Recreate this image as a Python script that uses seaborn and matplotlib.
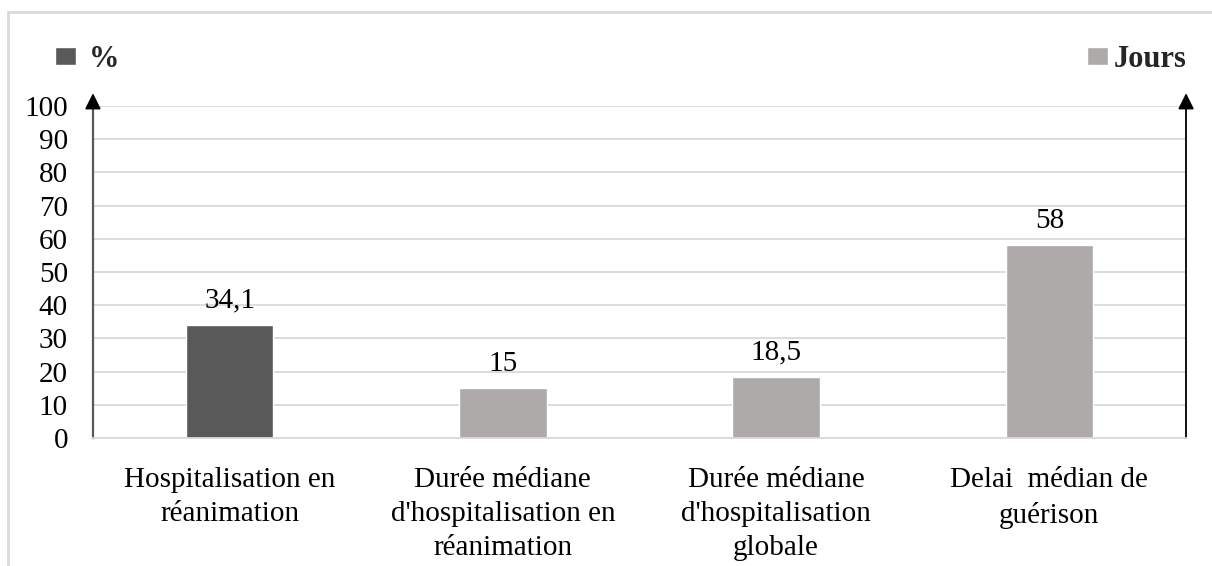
import matplotlib
matplotlib.use('Agg')
import matplotlib.pyplot as plt
import seaborn as sns
import pandas as pd
from matplotlib.patches import Rectangle

# Data
categories = [
    "Hospitalisation en\nréanimation",
    "Durée médiane\nd'hospitalisation en\nréanimation",
    "Durée médiane\nd'hospitalisation\nglobale",
    "Delai  médian de\nguérison",
]
values = [34.1, 15, 18.5, 58]
value_labels = ["34,1", "15", "18,5", "58"]
units = ["%", "Jours", "Jours", "Jours"]
yticks = list(range(0, 101, 10))

sns.set_theme(style="white")
plt.rcParams['font.family'] = ['Liberation Serif', 'DejaVu Serif']

df = pd.DataFrame({'categorie': categories, 'valeur': values, 'unite': units})

fig = plt.figure(figsize=(12.12, 5.66), dpi=100)
ax = fig.add_axes([0.0767, 0.2261, 0.9019, 0.5866])

sns.barplot(data=df, x='categorie', y='valeur', hue='unite',
            palette={'%': '#595959', 'Jours': '#AEAAAA'},
            dodge=False, width=0.32, saturation=1, ax=ax)

# Value labels above each bar
for cont in ax.containers:
    for bar in cont:
        h = bar.get_height()
        if pd.isna(h) or h == 0:
            continue
        xc = bar.get_x() + bar.get_width() / 2
        i = int(round(xc))
        ax.annotate(value_labels[i], (xc, h), xytext=(0, 8), textcoords='offset points',
                    ha='center', va='bottom', fontsize=21, color='black')

ax.set_ylim(0, 100)
ax.set_yticks(yticks)
ax.set_xlabel('')
ax.set_ylabel('')
ax.yaxis.grid(True, color='#D9D9D9', lw=1.3)
ax.set_axisbelow(True)
ax.tick_params(axis='y', length=0, pad=18, labelsize=21, labelcolor='black')
ax.tick_params(axis='x', length=0, pad=21, labelsize=21, labelcolor='black')
for lab in ax.get_xticklabels():
    lab.set_linespacing(1.4)

ax.spines['top'].set_visible(False)
ax.spines['bottom'].set_color('#D9D9D9')
ax.spines['bottom'].set_linewidth(1.3)
ax.spines['left'].set_color('#595959')
ax.spines['left'].set_linewidth(1.6)
ax.spines['right'].set_color('black')
ax.spines['right'].set_linewidth(1.3)

# Arrow heads on both axes
for xpos in (0, 1):
    ax.annotate('', xy=(xpos, 1.047), xycoords='axes fraction',
                xytext=(xpos, 0.99), textcoords='axes fraction',
                arrowprops=dict(arrowstyle='-|>', color='black', lw=1.3, mutation_scale=24))

# Split legend: "%" at top left, "Jours" at top right
handles, labels = ax.get_legend_handles_labels()
if ax.get_legend() is not None:
    ax.get_legend().remove()
lookup = dict(zip(labels, handles))
leg_kw = dict(frameon=False, prop=dict(weight='bold', size=22),
              handlelength=0.7, handleheight=0.5,
              borderpad=0, borderaxespad=0)
fig.legend([lookup['%']], ['%'], loc='center left', handletextpad=0.4,
           bbox_to_anchor=(0.0454, 0.895), **leg_kw)
fig.legend([lookup['Jours']], ['Jours'], loc='center left', handletextpad=0.2,
           bbox_to_anchor=(0.8965, 0.895), **leg_kw)

# Light chart frame
fig.add_artist(Rectangle((8 / 1212, -0.1), 1.2, 1.0 - 12 / 566 + 0.1,
                         transform=fig.transFigure, fill=False,
                         edgecolor='#D9D9D9', lw=2))

fig.savefig('out.png', dpi=100)
